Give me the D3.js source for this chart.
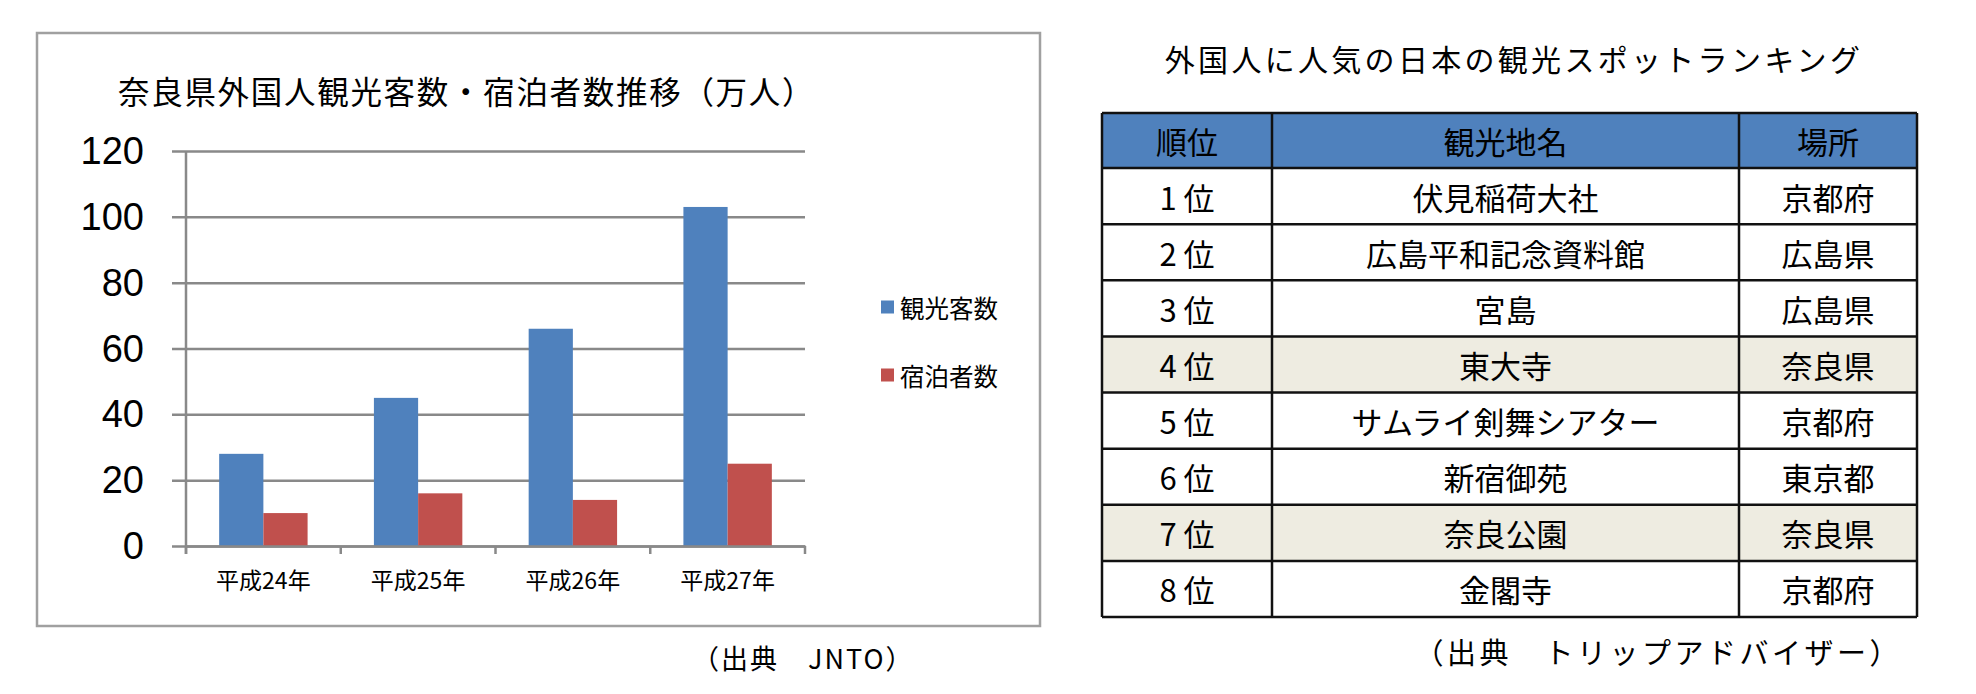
<!DOCTYPE html>
<html>
<head>
<meta charset="utf-8">
<script src="https://cdn.jsdelivr.net/npm/d3@7"></script>
<style>
  html, body { margin: 0; padding: 0; background: #ffffff; }
  svg { display: block; }
  .jp { font-family: "Noto Sans CJK JP", "Noto Sans", sans-serif; }
  .num { font-family: "Liberation Sans", "Noto Sans", sans-serif; }
</style>
</head>
<body>
<svg id="chart" width="1976" height="694"></svg>
<script>
// ---------- data ----------
const categories = ["平成24年", "平成25年", "平成26年", "平成27年"];
const seriesNames = ["観光客数", "宿泊者数"];
const visitors = [28, 45, 66, 103];
const stays = [10, 16, 14, 25];
const yTicks = [0, 20, 40, 60, 80, 100, 120];
const chartTitle = "奈良県外国人観光客数・宿泊者数推移（万人）";
const chartSource = "（出典　JNTO）";

const tableTitle = "外国人に人気の日本の観光スポットランキング";
const tableHeaders = ["順位", "観光地名", "場所"];
const ranks = ["1 位", "2 位", "3 位", "4 位", "5 位", "6 位", "7 位", "8 位"];
const spots = ["伏見稲荷大社", "広島平和記念資料館", "宮島", "東大寺", "サムライ剣舞シアター", "新宿御苑", "奈良公園", "金閣寺"];
const places = ["京都府", "広島県", "広島県", "奈良県", "京都府", "東京都", "奈良県", "京都府"];
const highlighted = [false, false, false, true, false, false, true, false];
const tableSource = "（出典　トリップアドバイザー）";

// ---------- styles ----------
const seriesColors = ["#4f81bd", "#c0504d"];
const gridColor = "#898989";

const svg = d3.select("#chart");
svg.append("rect").attr("width", 1976).attr("height", 694).attr("fill", "#fff");

// ---------- left chart ----------
const frame = { x: 37, y: 33, w: 1003, h: 593 };
svg.append("rect")
  .attr("x", frame.x).attr("y", frame.y)
  .attr("width", frame.w).attr("height", frame.h)
  .attr("fill", "#fff").attr("stroke", "#a0a0a0").attr("stroke-width", 2.5);

svg.append("text").attr("class", "jp")
  .attr("x", 118).attr("y", 90)
  .attr("dominant-baseline", "central")
  .attr("font-size", 31.5).attr("letter-spacing", 1.7).attr("fill", "#000")
  .text(chartTitle);

const plot = { left: 186, right: 805, top: 151, bottom: 546 };
const x0 = d3.scaleBand().domain(categories).range([plot.left, plot.right]).paddingInner(0).paddingOuter(0);
const x1 = d3.scaleBand().domain(seriesNames).range([0, x0.bandwidth()]).paddingInner(0).paddingOuter(0.75);
const y = d3.scaleLinear().domain([0, 120]).range([plot.bottom, plot.top]);

// gridlines (y axis with long ticks)
const yAxis = d3.axisLeft(y).tickValues(yTicks).tickSize(-(plot.right - plot.left)).tickFormat("");
const gy = svg.append("g").attr("transform", `translate(${plot.left},0)`).call(yAxis);
gy.select(".domain").remove();
gy.selectAll(".tick line").attr("stroke", gridColor).attr("stroke-width", 2.5).attr("x1", -14);

// y tick labels
svg.append("g").selectAll("text").data(yTicks).join("text")
  .attr("class", "num")
  .attr("x", 144).attr("y", d => y(d))
  .attr("text-anchor", "end").attr("dominant-baseline", "central")
  .attr("font-size", 38).attr("fill", "#000")
  .text(d => d);

// bars
const seriesData = [visitors, stays];
const groups = svg.append("g").selectAll("g").data(categories).join("g")
  .attr("transform", d => `translate(${x0(d)},0)`);
groups.selectAll("rect")
  .data((c, i) => seriesNames.map((s, k) => ({ s, v: seriesData[k][i], k })))
  .join("rect")
  .attr("x", d => x1(d.s))
  .attr("y", d => y(d.v))
  .attr("width", x1.bandwidth())
  .attr("height", d => y(0) - y(d.v))
  .attr("fill", d => seriesColors[d.k]);

// y axis line
svg.append("line")
  .attr("x1", plot.left).attr("x2", plot.left)
  .attr("y1", plot.top).attr("y2", plot.bottom + 8)
  .attr("stroke", gridColor).attr("stroke-width", 2.5);

// x axis
const xAxis = d3.axisBottom(x0).tickSize(0).tickFormat("");
const gx = svg.append("g").attr("transform", `translate(0,${plot.bottom})`).call(xAxis);
gx.select(".domain").attr("stroke", gridColor).attr("stroke-width", 2.5);
gx.selectAll(".tick").remove();
const boundaries = categories.map(c => x0(c)).concat([x0.range()[1]]);
svg.append("g").selectAll("line").data(boundaries).join("line")
  .attr("x1", d => d).attr("x2", d => d)
  .attr("y1", plot.bottom).attr("y2", plot.bottom + 8)
  .attr("stroke", gridColor).attr("stroke-width", 2.5);

svg.append("g").selectAll("text").data(categories).join("text")
  .attr("class", "jp")
  .attr("x", d => x0(d) + x0.bandwidth() / 2)
  .attr("y", 579)
  .attr("text-anchor", "middle").attr("dominant-baseline", "central")
  .attr("font-size", 23).attr("fill", "#000")
  .text(d => d);

// legend
const legend = svg.append("g").selectAll("g").data(seriesNames).join("g")
  .attr("transform", (d, i) => `translate(881,${307 + i * 68})`);
legend.append("rect")
  .attr("x", 0).attr("y", -6.5).attr("width", 13).attr("height", 13)
  .attr("fill", (d, i) => seriesColors[i]);
legend.append("text").attr("class", "jp")
  .attr("x", 19).attr("y", 0)
  .attr("dominant-baseline", "central")
  .attr("font-size", 24.5).attr("fill", "#000")
  .text(d => d);

// source
svg.append("text").attr("class", "jp")
  .attr("x", 692).attr("y", 657)
  .attr("dominant-baseline", "central")
  .attr("font-size", 27).attr("letter-spacing", 2).attr("fill", "#000")
  .text(chartSource);

// ---------- right table ----------
svg.append("text").attr("class", "jp")
  .attr("x", 1514).attr("y", 58)
  .attr("text-anchor", "middle").attr("dominant-baseline", "central")
  .attr("font-size", 30).attr("letter-spacing", 3.3).attr("fill", "#000")
  .text(tableTitle);

const colEdges = [1102, 1272, 1739, 1917];
const headerTop = 113, headerBottom = 168, tableBottom = 617;
const rowY = d3.scaleBand().domain(d3.range(ranks.length)).range([headerBottom, tableBottom]);

// header background
svg.append("rect")
  .attr("x", colEdges[0]).attr("y", headerTop)
  .attr("width", colEdges[3] - colEdges[0]).attr("height", headerBottom - headerTop)
  .attr("fill", "#4f81bd");

// row backgrounds
svg.append("g").selectAll("rect").data(d3.range(ranks.length)).join("rect")
  .attr("x", colEdges[0]).attr("y", i => rowY(i))
  .attr("width", colEdges[3] - colEdges[0]).attr("height", rowY.bandwidth())
  .attr("fill", i => highlighted[i] ? "#eeece1" : "#ffffff");

// header text
svg.append("g").selectAll("text").data(tableHeaders).join("text")
  .attr("class", "jp")
  .attr("x", (d, i) => (colEdges[i] + colEdges[i + 1]) / 2)
  .attr("y", (headerTop + headerBottom) / 2)
  .attr("text-anchor", "middle").attr("dominant-baseline", "central")
  .attr("font-size", 31).attr("fill", "#000")
  .text(d => d);

// cell text
const cols = [ranks, spots, places];
cols.forEach((col, ci) => {
  svg.append("g").selectAll("text").data(col).join("text")
    .attr("class", "jp")
    .attr("x", (colEdges[ci] + colEdges[ci + 1]) / 2)
    .attr("y", (d, i) => rowY(i) + rowY.bandwidth() / 2)
    .attr("text-anchor", "middle").attr("dominant-baseline", "central")
    .attr("font-size", 31).attr("fill", "#000")
    .text(d => d);
});

// grid lines of table
const hLines = [headerTop, headerBottom].concat(d3.range(1, ranks.length + 1).map(i => rowY(i - 1) + rowY.bandwidth()));
svg.append("g").selectAll("line").data(hLines).join("line")
  .attr("x1", colEdges[0]).attr("x2", colEdges[3])
  .attr("y1", d => d).attr("y2", d => d)
  .attr("stroke", "#111").attr("stroke-width", 2.5);
svg.append("g").selectAll("line").data(colEdges).join("line")
  .attr("x1", d => d).attr("x2", d => d)
  .attr("y1", headerTop).attr("y2", tableBottom)
  .attr("stroke", "#111").attr("stroke-width", 2.5);

svg.append("text").attr("class", "jp")
  .attr("x", 1902).attr("y", 651)
  .attr("text-anchor", "end").attr("dominant-baseline", "central")
  .attr("font-size", 29).attr("letter-spacing", 3.5).attr("fill", "#000")
  .text(tableSource);
</script>
</body>
</html>
